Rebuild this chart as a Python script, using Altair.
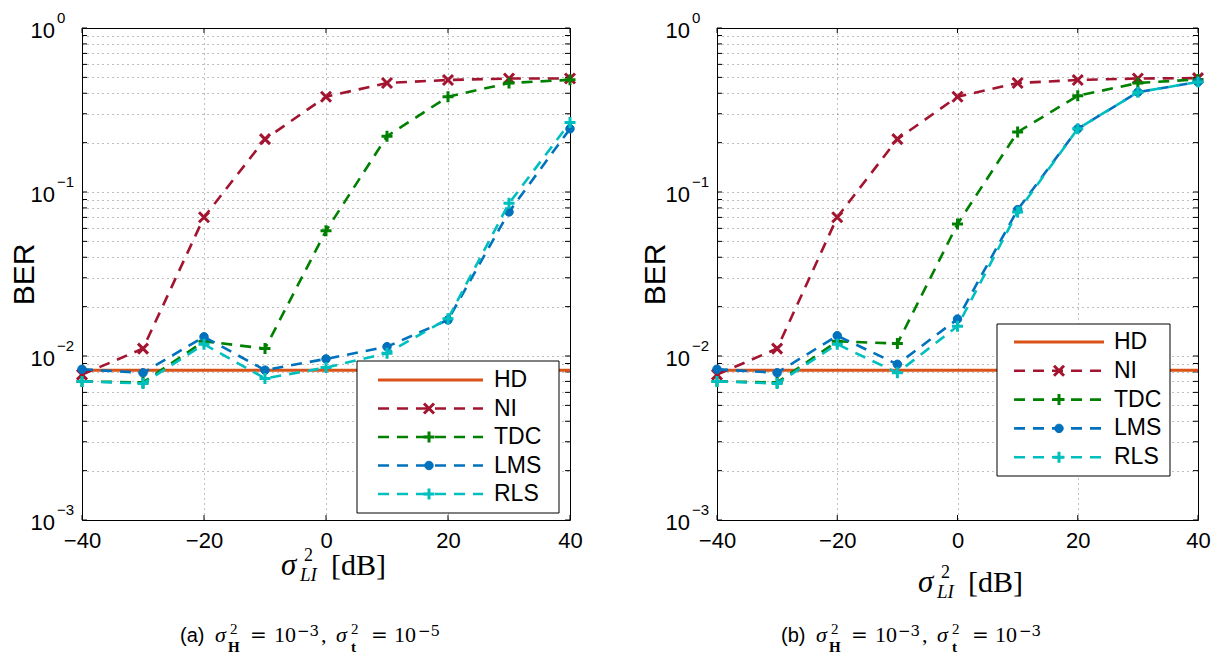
import altair as alt
import pandas as pd

# Loop-interference power (dB) on the x axis
snr_db = [-40, -30, -20, -10, 0, 10, 20, 30, 40]

# Panel (a): sigma_H^2 = 1e-3, sigma_t^2 = 1e-5
a_hd = [0.0082, 0.0082, 0.0082, 0.0082, 0.0082, 0.0082, 0.0082, 0.0082, 0.0082]
a_ni = [0.0077, 0.0111, 0.0702, 0.210, 0.381, 0.462, 0.482, 0.492, 0.492]
a_tdc = [0.0070, 0.0069, 0.0123, 0.0111, 0.058, 0.219, 0.381, 0.462, 0.483]
a_lms = [0.0083, 0.0079, 0.0131, 0.0082, 0.0096, 0.0114, 0.0166, 0.0756, 0.243]
a_rls = [0.0070, 0.0068, 0.0118, 0.0073, 0.0085, 0.0104, 0.0169, 0.0853, 0.265]

# Panel (b): sigma_H^2 = 1e-3, sigma_t^2 = 1e-3
b_hd = [0.0082, 0.0082, 0.0082, 0.0082, 0.0082, 0.0082, 0.0082, 0.0082, 0.0082]
b_ni = [0.0077, 0.0111, 0.0702, 0.210, 0.381, 0.462, 0.482, 0.492, 0.495]
b_tdc = [0.0070, 0.0069, 0.0123, 0.0119, 0.0638, 0.232, 0.386, 0.462, 0.486]
b_lms = [0.0083, 0.0079, 0.0133, 0.0089, 0.0168, 0.078, 0.243, 0.406, 0.469]
b_rls = [0.0070, 0.0068, 0.0118, 0.0079, 0.0152, 0.0756, 0.243, 0.406, 0.469]

series_names = ["HD", "NI", "TDC", "LMS", "RLS"]
series_colors = ["#D95319", "#A2142F", "#008000", "#0072BD", "#00BFBF"]
series_markers = [None, "x", "plus", "circle", "plus"]

x_ticks = [-40, -20, 0, 20, 40]
y_decades = [1.0, 0.1, 0.01, 0.001]
y_decade_exps = ["0", "\u22121", "\u22122", "\u22123"]
y_minor = [m * d for d in [0.001, 0.01, 0.1] for m in range(1, 10)] + [1.0]

cap_tags = ["(a)", "(b)"]
cap_h_exp = ["\u22123", "\u22123"]
cap_t_exp = ["\u22125", "\u22123"]

X_PATH = "M-1,-1L1,1M-1,1L1,-1"
PLUS_PATH = "M-1,0L1,0M0,-1L0,1"
DASH = [11, 8]
SANS = "Liberation Sans"
SERIF = "Liberation Serif"
WIDE_SERIF = "DejaVu Serif"

XSCALE = alt.Scale(domain=[-40, 40], nice=False, zero=False)
YSCALE = alt.Scale(type="log", domain=[0.001, 1], nice=False)

one = pd.DataFrame({"k": [0]})


def axes(H, ber_x):
    ax = alt.Axis(
        values=x_ticks, grid=True, gridDash=[1, 4], gridColor="#000",
        gridOpacity=0.5, ticks=False, domain=False, labelFontSize=22,
        labelFont=SANS, labelColor="black", labelPadding=10,
        labelFlush=False, labelOverlap=False, title=None)
    ay = alt.Axis(
        values=y_minor, grid=True, gridDash=[1, 4], gridColor="#000",
        gridOpacity=0.5, ticks=False, labels=False, domain=False,
        title="BER", titleFont=SANS, titleFontSize=30,
        titleFontWeight="normal", titleColor="black", titleAngle=-90,
        titleX=ber_x, titleY=H / 2, titleAlign="center",
        titleBaseline="alphabetic")
    return ax, ay


def txt(s, x, y, size, font=SANS, style="normal", weight="normal",
        align="left", baseline="alphabetic"):
    return alt.Chart(one).mark_text(
        text=s, fontSize=size, font=font, fontStyle=style, fontWeight=weight,
        align=align, baseline=baseline, color="black"
    ).encode(x=alt.value(x), y=alt.value(y))


def marker_kw(kind, color):
    if kind == "circle":
        return dict(shape="circle", filled=True, fill=color,
                    stroke=color, strokeWidth=1, size=72, opacity=1)
    path = X_PATH if kind == "x" else PLUS_PATH
    size = 100 if kind == "x" else 121
    return dict(shape=path, filled=False, stroke=color,
                strokeWidth=3, size=size, opacity=1)


def panel(W, H, series_vals, leg, xt, cap, idx, ber_x):
    ax, ay = axes(H, ber_x)

    def X(f):
        return alt.X(f, scale=XSCALE, axis=ax)

    def Y(f):
        return alt.Y(f, scale=YSCALE, axis=ay)

    layers = []
    # inward tick marks on all four sides
    yt = pd.DataFrame({"v": y_minor})
    xtk = pd.DataFrame({"v": x_ticks})
    for x0, x1 in [(0, 5), (W - 5, W)]:
        layers.append(alt.Chart(yt).mark_rule(color="black", strokeWidth=1).encode(
            y=Y("v:Q"), x=alt.value(x0), x2=alt.value(x1)))
    for y0, y1 in [(H - 5, H), (0, 5)]:
        layers.append(alt.Chart(xtk).mark_rule(color="black", strokeWidth=1).encode(
            x=X("v:Q"), y=alt.value(y0), y2=alt.value(y1)))
    # y tick labels 10^k
    yl = pd.DataFrame({"v": y_decades, "e": y_decade_exps})
    layers.append(alt.Chart(yl).mark_text(
        text="10", fontSize=22, font=SANS, align="right", baseline="alphabetic",
        dy=10, color="black").encode(y=Y("v:Q"), x=alt.value(-27)))
    layers.append(alt.Chart(yl).mark_text(
        fontSize=15, font=SANS, align="left", baseline="alphabetic",
        dy=-5, color="black").encode(y=Y("v:Q"), x=alt.value(-25), text="e:N"))

    # data series
    for name, color, mk, vals in zip(series_names, series_colors, series_markers, series_vals):
        df = pd.DataFrame({"snr": snr_db, "ber": vals})
        line_kw = dict(color=color, strokeWidth=2.6)
        if mk is not None:
            line_kw["strokeDash"] = DASH
        else:
            line_kw["strokeWidth"] = 3
        enc = dict(x=X("snr:Q"), y=Y("ber:Q"))
        layers.append(alt.Chart(df).mark_line(**line_kw).encode(**enc))
        if mk is not None:
            layers.append(alt.Chart(df).mark_point(**marker_kw(mk, color)).encode(**enc))

    # legend box
    lx0, lx1, ly0, ly1, row0, step, sx0, sx1, smk, tx = leg
    layers.append(alt.Chart(one).mark_rect(fill="white", stroke="black", strokeWidth=1).encode(
        x=alt.value(lx0), x2=alt.value(lx1), y=alt.value(ly0), y2=alt.value(ly1)))
    for i, (name, color, mk) in enumerate(zip(series_names, series_colors, series_markers)):
        yy = row0 + i * step
        rk = dict(color=color, strokeWidth=2.6)
        if mk is not None:
            rk["strokeDash"] = DASH
        else:
            rk["strokeWidth"] = 3
        layers.append(alt.Chart(one).mark_rule(**rk).encode(
            x=alt.value(sx0), x2=alt.value(sx1), y=alt.value(yy)))
        if mk is not None:
            layers.append(alt.Chart(one).mark_point(**marker_kw(mk, color)).encode(
                x=alt.value(smk), y=alt.value(yy)))
        layers.append(txt(name, tx, yy, 23, baseline="middle"))

    # x-axis title: sigma^2_LI [dB]
    sx, sy = xt
    layers.append(txt("\u03c3", sx, sy, 31, font=SERIF, style="italic"))
    layers.append(txt("2", sx + 23, sy - 14, 18, font=SERIF))
    layers.append(txt("LI", sx + 19, sy + 6, 19, font=SERIF, style="italic"))
    layers.append(txt("[dB]", sx + 50, sy, 30, font=SERIF))

    # sub-caption
    cx, cy = cap
    pieces = [
        (cap_tags[idx], 0, 0, 20, SANS, "normal", "normal"),
        ("\u03c3", 35, 0, 22, SERIF, "italic", "normal"),
        ("2", 50, -8, 15, SERIF, "normal", "normal"),
        ("H", 48, 10, 15, SERIF, "normal", "bold"),
        ("=", 70, 0, 20, WIDE_SERIF, "normal", "normal"),
        ("10", 94, 0, 22, SERIF, "normal", "normal"),
        (cap_h_exp[idx], 117, -6, 15, WIDE_SERIF, "normal", "normal"),
        (",", 141, 0, 22, SERIF, "normal", "normal"),
        ("\u03c3", 156, 0, 22, SERIF, "italic", "normal"),
        ("2", 171, -8, 15, SERIF, "normal", "normal"),
        ("t", 171, 10, 15, SERIF, "normal", "bold"),
        ("=", 191, 0, 20, WIDE_SERIF, "normal", "normal"),
        ("10", 214, 0, 22, SERIF, "normal", "normal"),
        (cap_t_exp[idx], 238, -6, 15, WIDE_SERIF, "normal", "normal"),
    ]
    for s, dx, dy, size, font, style, weight in pieces:
        layers.append(txt(s, cx + dx, cy + dy, size, font=font, style=style, weight=weight))

    return alt.layer(*layers).properties(width=W, height=H)


H = 492
left = panel(488, H, [a_hd, a_ni, a_tdc, a_lms, a_rls],
             (275, 477, 333, 485, 352, 28.5, 296, 401, 347, 412),
             (199, 547), (98, 614), 0, -49)
right = panel(481, H, [b_hd, b_ni, b_tdc, b_lms, b_rls],
              (280, 453, 296, 448, 314, 28.8, 297, 387, 342, 397),
              (201, 564), (64, 614), 1, -53)

chart = alt.hconcat(left, right, spacing=147, bounds="flush").properties(
    padding={"left": 8, "top": 10, "right": 5, "bottom": 5},
    background="white",
).configure_view(stroke="black", strokeWidth=1)

chart.save("out.html", embed_options={"renderer": "svg", "actions": False})
